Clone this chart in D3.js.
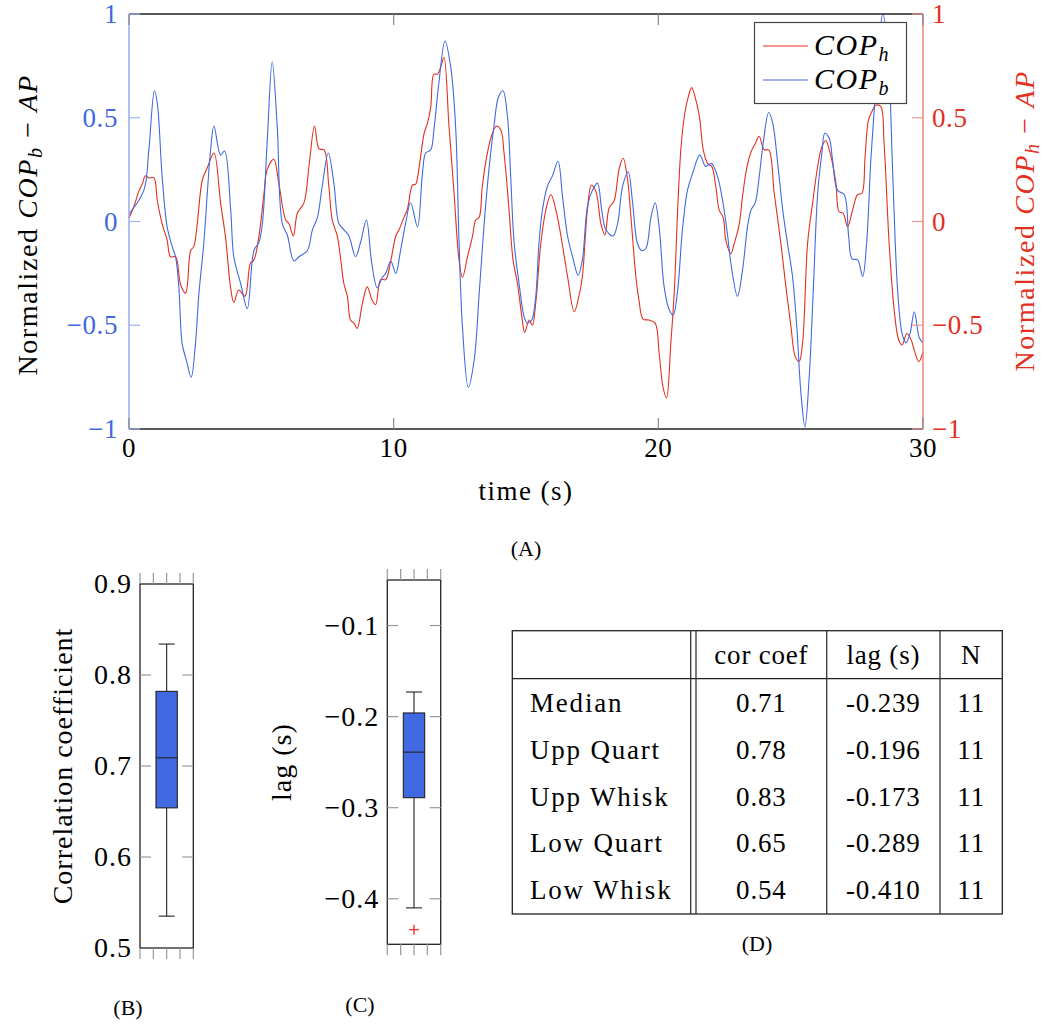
<!DOCTYPE html>
<html><head><meta charset="utf-8">
<script src="https://cdn.jsdelivr.net/npm/d3@7"></script>
<style>
body{margin:0;background:#fff;}
</style></head>
<body><svg id="c" width="1044" height="1025" font-family="'Liberation Serif', 'DejaVu Serif', serif"></svg>
<script>
// ---------- DATA ----------
const copHTime = [0,0.18,0.37,0.5,0.62,0.75,0.94,1.07,1.25,1.44,1.57,1.76,1.95,2.14,2.33,2.45,2.58,2.77,2.96,3.21,3.46,3.65,3.84,3.96,4.15,4.38,4.59,4.72,4.91,5.1,5.22,5.47,5.66,5.92,6.04,6.21,6.36,6.61,6.8,7.01,7.18,7.37,7.55,7.68,7.87,8.0,8.12,8.25,8.37,8.5,8.62,8.82,9.0,9.19,9.32,9.51,9.7,9.89,10.08,10.2,10.39,10.52,10.71,10.83,10.96,11.15,11.27,11.4,11.52,11.65,11.78,11.9,12.09,12.28,12.47,12.6,12.79,12.98,13.1,13.23,13.35,13.54,13.73,13.88,14.05,14.17,14.36,14.51,14.68,14.86,14.95,15.12,15.24,15.37,15.56,15.75,15.94,16.13,16.32,16.57,16.82,17.0,17.13,17.32,17.47,17.64,17.83,17.98,18.14,18.33,18.52,18.67,18.84,18.96,19.15,19.27,19.42,19.65,19.88,20.03,20.18,20.31,20.47,20.6,20.73,20.85,20.98,21.1,21.26,21.42,21.57,21.69,21.86,22.02,22.17,22.3,22.45,22.55,22.74,22.87,23.06,23.18,23.33,23.5,23.66,23.81,24.0,24.17,24.38,24.63,24.82,25.01,25.17,25.32,25.45,25.64,25.83,26.02,26.18,26.33,26.46,26.58,26.71,26.83,26.98,27.15,27.34,27.53,27.69,27.81,27.94,28.09,28.21,28.4,28.53,28.72,28.91,29.08,29.21,29.39,29.55,29.67,29.84,30];
const copH = [0.017,0.07,0.145,0.18,0.22,0.21,0.21,0.10,-0.01,-0.09,-0.17,-0.17,-0.305,-0.345,-0.14,-0.12,-0.01,0.2,0.26,0.33,0.09,-0.08,-0.32,-0.39,-0.33,-0.36,-0.20,-0.185,-0.07,0.135,0.25,0.30,0.185,0.007,-0.01,-0.07,0.04,0.09,0.265,0.46,0.35,0.345,0.17,0.007,-0.07,-0.185,-0.30,-0.36,-0.475,-0.49,-0.515,-0.395,-0.315,-0.38,-0.40,-0.28,-0.28,-0.19,-0.07,-0.04,0.02,0.06,0.175,0.18,0.26,0.425,0.47,0.55,0.71,0.71,0.745,0.79,0.46,0.14,-0.185,-0.27,-0.17,-0.07,0.007,0.02,0.17,0.33,0.425,0.46,0.44,0.33,0.055,-0.185,-0.30,-0.475,-0.535,-0.475,-0.50,-0.39,-0.105,0.055,0.13,0.055,-0.07,-0.265,-0.435,-0.36,-0.265,0.055,0.175,0.145,-0.01,-0.065,0.065,0.10,0.255,0.305,0.20,0.03,-0.265,-0.38,-0.47,-0.475,-0.49,-0.635,-0.80,-0.85,-0.59,-0.345,0.055,0.345,0.505,0.585,0.645,0.585,0.49,0.35,0.28,0.265,0.17,0.055,0.02,-0.09,-0.155,-0.105,-0.01,0.12,0.25,0.335,0.375,0.41,0.345,0.345,0.135,-0.105,-0.315,-0.505,-0.65,-0.675,-0.585,-0.105,0.09,0.265,0.36,0.39,0.345,0.28,0.185,0.047,0.04,-0.025,0.055,0.13,0.135,0.31,0.49,0.535,0.56,0.555,0.375,-0.105,-0.425,-0.57,-0.595,-0.54,-0.57,-0.62,-0.675,-0.63];
const copBTime = [0,0.56,0.75,0.96,1.07,1.25,1.44,1.63,1.76,1.88,2.01,2.17,2.35,2.51,2.64,2.83,2.96,3.08,3.21,3.46,3.61,3.84,3.96,4.22,4.47,4.72,4.91,5.04,5.22,5.41,5.6,5.79,5.98,6.23,6.42,6.74,6.93,7.12,7.3,7.53,7.74,7.93,8.12,8.31,8.56,8.75,8.97,9.17,9.38,9.57,9.7,9.89,10.08,10.26,10.45,10.64,10.9,11.08,11.21,11.4,11.52,11.71,11.94,12.15,12.34,12.47,12.6,12.82,13.04,13.23,13.41,13.6,13.79,13.96,14.13,14.3,14.42,14.55,14.74,14.93,15.05,15.18,15.24,15.37,15.49,15.62,15.81,16.0,16.21,16.38,16.57,16.76,16.97,17.13,17.32,17.51,17.7,17.86,18.02,18.29,18.46,18.65,18.86,19.02,19.21,19.37,19.53,19.72,19.88,20.03,20.22,20.41,20.56,20.73,20.91,21.1,21.29,21.57,21.79,22.01,22.24,22.43,22.62,22.74,22.99,23.18,23.37,23.5,23.66,23.81,23.96,24.17,24.32,24.51,24.7,24.88,25.07,25.23,25.39,25.54,25.7,25.85,26.02,26.18,26.29,26.46,26.58,26.77,27.02,27.19,27.32,27.53,27.72,27.87,28.03,28.2,28.35,28.48,28.67,28.86,29.04,29.21,29.36,29.51,29.67,29.86,30];
const copB = [0.036,0.15,0.345,0.63,0.57,0.22,-0.025,-0.12,-0.17,-0.31,-0.59,-0.67,-0.75,-0.59,-0.35,-0.10,0.14,0.34,0.46,0.32,0.34,0.06,-0.17,-0.30,-0.42,-0.14,-0.10,-0.01,0.38,0.77,0.46,-0.01,-0.065,-0.19,-0.17,-0.14,-0.04,0.02,0.17,0.33,0.185,-0.01,-0.04,-0.07,-0.17,-0.10,0.007,-0.20,-0.32,-0.27,-0.25,-0.19,-0.25,-0.14,-0.01,0.09,-0.025,0.22,0.33,0.345,0.44,0.67,0.87,0.75,0.46,-0.10,-0.51,-0.80,-0.67,-0.35,-0.025,0.25,0.46,0.60,0.63,0.505,0.22,-0.10,-0.30,-0.46,-0.49,-0.48,-0.47,-0.36,-0.105,0.055,0.17,0.22,0.29,0.12,-0.07,-0.17,-0.26,-0.185,0.07,0.15,0.185,0.055,-0.04,-0.07,-0.01,0.17,0.24,0.10,-0.105,-0.14,-0.13,0.02,0.09,-0.025,-0.315,-0.425,-0.45,-0.33,-0.04,0.15,0.23,0.32,0.265,0.28,0.215,0.10,-0.07,-0.20,-0.36,-0.235,-0.025,0.055,0.09,0.215,0.375,0.525,0.475,0.28,0.055,-0.105,-0.265,-0.505,-0.83,-0.99,-0.75,-0.345,0.135,0.33,0.425,0.40,0.30,0.15,0.13,-0.07,-0.18,-0.185,-0.265,-0.105,0.30,0.62,0.875,1.0,0.83,0.215,-0.33,-0.54,-0.585,-0.54,-0.435,-0.56,-0.585];
const xTicks = [0,10,20,30];
const yTicks = [-1,-0.5,0,0.5,1];
const corTicks = [0.5,0.6,0.7,0.8,0.9];
const lagTicks = [-0.4,-0.3,-0.2,-0.1];
// box stats: low whisker, low quartile, median, upper quartile, upper whisker
const corBox = [0.535,0.654,0.709,0.782,0.834];
const lagBox = [-0.410,-0.289,-0.239,-0.196,-0.173];
const lagOutliers = [-0.434];
const rowLabels = ["Median","Upp Quart","Upp Whisk","Low Quart","Low Whisk"];
const corCol = ["0.71","0.78","0.83","0.65","0.54"];
const lagCol = ["-0.239","-0.196","-0.173","-0.289","-0.410"];
const nCol = ["11","11","11","11","11"];
const headers = ["","cor coef","lag (s)","N"];

// ---------- STYLE ----------
const RED="#e3301f", BLUE="#4169e1", FS=27;
const svg = d3.select("#c");
const fmt = v => (v<0?"\u2212":"")+String(Math.abs(v));

// ---------- (A) main chart ----------
const x = d3.scaleLinear().domain([0,30]).range([129,923]);
const y = d3.scaleLinear().domain([-1,1]).range([429,14]);
const gA = svg.append("g");
const line = d3.line().x(d=>x(d[0])).y(d=>y(d[1])).curve(d3.curveCatmullRom.alpha(0.5));
gA.append("path").datum(copHTime.map((t,i)=>[t,copH[i]])).attr("d",line)
  .attr("fill","none").attr("stroke",RED).attr("stroke-width",1.1);
gA.append("path").datum(copBTime.map((t,i)=>[t,copB[i]])).attr("d",line)
  .attr("fill","none").attr("stroke",BLUE).attr("stroke-width",1.1);
// axes lines
gA.append("line").attr("x1",129).attr("x2",923).attr("y1",14).attr("y2",14).attr("stroke","#222").attr("stroke-width",1.4);
gA.append("line").attr("x1",129).attr("x2",923).attr("y1",429).attr("y2",429).attr("stroke","#222").attr("stroke-width",1.4);
gA.append("line").attr("x1",129).attr("x2",129).attr("y1",14).attr("y2",429).attr("stroke","#8fa5e8").attr("stroke-width",1.4);
gA.append("line").attr("x1",923).attr("x2",923).attr("y1",14).attr("y2",429).attr("stroke","#e87a70").attr("stroke-width",1.4);
// ticks
yTicks.forEach(v=>{
  gA.append("line").attr("x1",129).attr("x2",140).attr("y1",y(v)).attr("y2",y(v)).attr("stroke","#9fb3ee").attr("stroke-width",1.2);
  gA.append("line").attr("x1",912).attr("x2",923).attr("y1",y(v)).attr("y2",y(v)).attr("stroke","#ee9990").attr("stroke-width",1.2);
  gA.append("text").attr("x",118).attr("y",y(v)+9).attr("text-anchor","end").attr("fill",BLUE).attr("font-size",FS).attr("letter-spacing",0.6).text(fmt(v));
  gA.append("text").attr("x",932).attr("y",y(v)+9).attr("text-anchor","start").attr("fill",RED).attr("font-size",FS).attr("letter-spacing",0.6).text(fmt(v));
});
xTicks.forEach(v=>{
  gA.append("line").attr("x1",x(v)).attr("x2",x(v)).attr("y1",14).attr("y2",25).attr("stroke","#888").attr("stroke-width",1.2);
  gA.append("line").attr("x1",x(v)).attr("x2",x(v)).attr("y1",418).attr("y2",429).attr("stroke","#888").attr("stroke-width",1.2);
  gA.append("text").attr("x",x(v)).attr("y",457).attr("text-anchor","middle").attr("fill","#000").attr("font-size",FS).attr("letter-spacing",0.6).text(v);
});
gA.append("text").attr("x",526).attr("y",500).attr("text-anchor","middle").attr("font-size",FS).attr("letter-spacing",1.5).text("time (s)");
function axisLabel(g, cx, cy, sub, color){
  const t = g.append("text").attr("transform",`translate(${cx},${cy}) rotate(-90)`).attr("text-anchor","middle").attr("fill",color).attr("font-size",28).attr("letter-spacing",1.6);
  t.append("tspan").text("Normalized ");
  t.append("tspan").attr("font-style","italic").text("COP");
  t.append("tspan").attr("font-style","italic").attr("font-size",20).attr("dy",5).text(sub);
  t.append("tspan").attr("dy",-5).text(" \u2212 ");
  t.append("tspan").attr("font-style","italic").text("AP");
}
axisLabel(gA, 37, 225, "b", "#000");
axisLabel(gA, 1034, 221, "h", RED);
// legend
gA.append("rect").attr("x",754.5).attr("y",22.5).attr("width",152).attr("height",81).attr("fill","#fff").attr("stroke","#444").attr("stroke-width",1.2);
[[RED,"h",46],[BLUE,"b",80]].forEach(([c,s,yy])=>{
  gA.append("line").attr("x1",763).attr("x2",808).attr("y1",yy).attr("y2",yy).attr("stroke",c).attr("stroke-width",1.1);
  const t = gA.append("text").attr("x",814).attr("y",yy+9).attr("font-size",30).attr("font-style","italic").attr("letter-spacing",1.5);
  t.append("tspan").text("COP");
  t.append("tspan").attr("font-size",20).attr("dy",6).text(s);
});
gA.append("text").attr("x",526).attr("y",556).attr("text-anchor","middle").attr("font-size",22).text("(A)");

// ---------- box plots ----------
function boxPlot(left, right, top, bottom, domain, ticks, stats, outliers, label, labelX, capLabel, capX, capY){
  const g = svg.append("g");
  const yS = d3.scaleLinear().domain(domain).range([bottom, top]);
  const xS = d3.scaleLinear().domain([0,4]).range([left,right]);
  g.append("rect").attr("x",left).attr("y",top).attr("width",right-left).attr("height",bottom-top).attr("fill","#fff").attr("stroke","#222").attr("stroke-width",1.3);
  d3.range(5).forEach(i=>{
    g.append("line").attr("x1",xS(i)).attr("x2",xS(i)).attr("y1",top-11).attr("y2",top).attr("stroke","#999").attr("stroke-width",1.2);
    g.append("line").attr("x1",xS(i)).attr("x2",xS(i)).attr("y1",bottom).attr("y2",bottom+11).attr("stroke","#999").attr("stroke-width",1.2);
  });
  ticks.forEach(v=>{
    if(v>domain[0] && v<domain[1]){
      g.append("line").attr("x1",left).attr("x2",left+11).attr("y1",yS(v)).attr("y2",yS(v)).attr("stroke","#999").attr("stroke-width",1.2);
      g.append("line").attr("x1",right-11).attr("x2",right).attr("y1",yS(v)).attr("y2",yS(v)).attr("stroke","#999").attr("stroke-width",1.2);
    }
    g.append("text").attr("x",left-8).attr("y",yS(v)+9).attr("text-anchor","end").attr("font-size",FS+1).attr("letter-spacing",1).text(fmt(v));
  });
  const cx = xS(2), bw = (right-left)*0.4, cw = (right-left)*0.3;
  g.append("line").attr("x1",cx).attr("x2",cx).attr("y1",yS(stats[0])).attr("y2",yS(stats[4])).attr("stroke","#222").attr("stroke-width",1.1);
  [stats[0],stats[4]].forEach(v=>g.append("line").attr("x1",cx-cw/2).attr("x2",cx+cw/2).attr("y1",yS(v)).attr("y2",yS(v)).attr("stroke","#222").attr("stroke-width",1.1));
  g.append("rect").attr("x",cx-bw/2).attr("y",yS(stats[3])).attr("width",bw).attr("height",yS(stats[1])-yS(stats[3])).attr("fill",BLUE).attr("stroke","#222").attr("stroke-width",1.1);
  g.append("line").attr("x1",cx-bw/2).attr("x2",cx+bw/2).attr("y1",yS(stats[2])).attr("y2",yS(stats[2])).attr("stroke","#222").attr("stroke-width",1.1);
  outliers.forEach(v=>{
    g.append("path").attr("d",`M${cx-5},${yS(v)}H${cx+5}M${cx},${yS(v)-5}V${yS(v)+5}`).attr("stroke","red").attr("stroke-width",1.1);
  });
  g.append("text").attr("transform",`translate(${labelX},${(top+bottom)/2}) rotate(-90)`).attr("text-anchor","middle").attr("font-size",FS+1).attr("letter-spacing",1).text(label);
  g.append("text").attr("x",capX).attr("y",capY).attr("text-anchor","middle").attr("font-size",22).text(capLabel);
}
boxPlot(140,193.3,584,948,[0.5,0.9],corTicks,corBox,[], "Correlation coefficient", 72, "(B)", 128, 1015);
boxPlot(387.3,440.7,580,944.3,[-0.45,-0.05],lagTicks,lagBox,lagOutliers, "lag (s)", 291, "(C)", 360, 1012);

// ---------- (D) table ----------
const gD = svg.append("g");
const rowY = d3.scaleLinear().domain([0,4]).range([703,890]);
gD.append("rect").attr("x",512.3).attr("y",630.7).attr("width",490).attr("height",283.3).attr("fill","none").attr("stroke","#222").attr("stroke-width",1.3);
gD.append("line").attr("x1",512.3).attr("x2",1002.3).attr("y1",678.7).attr("y2",678.7).attr("stroke","#222").attr("stroke-width",1.3);
[690.7,696,826.7,940].forEach(xx=>gD.append("line").attr("x1",xx).attr("x2",xx).attr("y1",630.7).attr("y2",914).attr("stroke","#333").attr("stroke-width",1.3));
const centers = [null,(696+826.7)/2,(826.7+940)/2,(940+1002.3)/2];
headers.forEach((h,i)=>{ if(i>0) gD.append("text").attr("x",centers[i]).attr("y",664).attr("text-anchor","middle").attr("font-size",FS).attr("letter-spacing",0.8).text(h); });
rowLabels.forEach((r,i)=>{
  const yy = rowY(i)+9;
  gD.append("text").attr("x",530).attr("y",yy).attr("font-size",FS).attr("letter-spacing",1.8).text(r);
  gD.append("text").attr("x",centers[1]).attr("y",yy).attr("text-anchor","middle").attr("font-size",FS).attr("letter-spacing",0.8).text(corCol[i]);
  gD.append("text").attr("x",centers[2]).attr("y",yy).attr("text-anchor","middle").attr("font-size",FS).attr("letter-spacing",0.8).text(lagCol[i]);
  gD.append("text").attr("x",centers[3]).attr("y",yy).attr("text-anchor","middle").attr("font-size",FS).attr("letter-spacing",0.8).text(nCol[i]);
});
gD.append("text").attr("x",757).attr("y",951).attr("text-anchor","middle").attr("font-size",22).text("(D)");
</script></body></html>
